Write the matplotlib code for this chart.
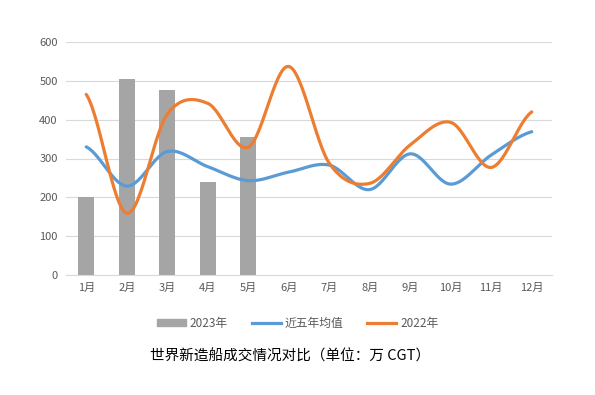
import numpy as np
import matplotlib.pyplot as plt
from matplotlib.patches import Patch
from matplotlib.lines import Line2D

plt.rcParams['font.family'] = ['Noto Sans CJK SC', 'DejaVu Sans']

months = ['1月', '2月', '3月', '4月', '5月', '6月', '7月', '8月', '9月', '10月', '11月', '12月']
bars_2023 = [202, 505, 476, 240, 355]
avg_5yr = [330, 229, 318, 279, 243, 265, 283, 220, 312, 234, 309, 369]
line_2022 = [465, 159, 414, 442, 329, 537, 288, 236, 335, 393, 277, 420]


def smooth(x, y, n=30):
    # Catmull-Rom curve through points, like Excel's smoothed line
    x = np.asarray(x, float)
    y = np.asarray(y, float)
    px = np.concatenate([[2 * x[0] - x[1]], x, [2 * x[-1] - x[-2]]])
    py = np.concatenate([[y[0]], y, [y[-1]]])
    xs, ys = [], []
    t = np.linspace(0, 1, n)
    for i in range(1, len(px) - 2):
        for p, out in ((px, xs), (py, ys)):
            p0, p1, p2, p3 = p[i - 1], p[i], p[i + 1], p[i + 2]
            out.extend(0.5 * ((2 * p1) + (-p0 + p2) * t
                              + (2 * p0 - 5 * p1 + 4 * p2 - p3) * t ** 2
                              + (-p0 + 3 * p1 - 3 * p2 + p3) * t ** 3))
    return np.array(xs), np.array(ys)


fig = plt.figure(figsize=(5.95, 3.95), dpi=100)
ax = fig.add_axes([66 / 595, 1 - 275 / 395, 486 / 595, 233 / 395])

grey_bar = '#a5a5a5'
blue = '#5b9bd5'
orange = '#ed7d31'

x = np.arange(len(months))
ax.bar(x[:len(bars_2023)], bars_2023, width=0.4, color=grey_bar, zorder=2)

sx, sy = smooth(x, avg_5yr)
ax.plot(sx, sy, color=blue, linewidth=2.3, solid_capstyle='round', zorder=3)
sx, sy = smooth(x, line_2022)
ax.plot(sx, sy, color=orange, linewidth=2.3, solid_capstyle='round', zorder=4)

ax.set_xlim(-0.5, 11.5)
ax.set_ylim(0, 600)
ax.set_yticks(range(0, 601, 100))
ax.set_xticks(x)
ax.set_xticklabels(months)
ax.grid(axis='y', color='#d9d9d9', linewidth=0.8, zorder=0)
for s in ['top', 'right', 'left']:
    ax.spines[s].set_visible(False)
ax.spines['bottom'].set_color('#d9d9d9')
ax.tick_params(length=0, labelsize=8, colors='#595959', pad=6)

handles = [Patch(color=grey_bar),
           Line2D([], [], color=blue, linewidth=2.3),
           Line2D([], [], color=orange, linewidth=2.3)]
leg = fig.legend(handles, ['2023年', '近五年均值', '2022年'], loc='center',
                 bbox_to_anchor=(0.5, 1 - 323 / 395), ncol=3, frameon=False,
                 fontsize=8.5, handlelength=2.5, handleheight=0.5,
                 columnspacing=2.0, handletextpad=0.3)
for t in leg.get_texts():
    t.set_color('#595959')

fig.text(0.487, 1 - 356 / 395, '世界新造船成交情况对比（单位：万 CGT）',
         ha='center', va='center', fontsize=10.5, color='black')

plt.savefig('out.png', dpi=100)
